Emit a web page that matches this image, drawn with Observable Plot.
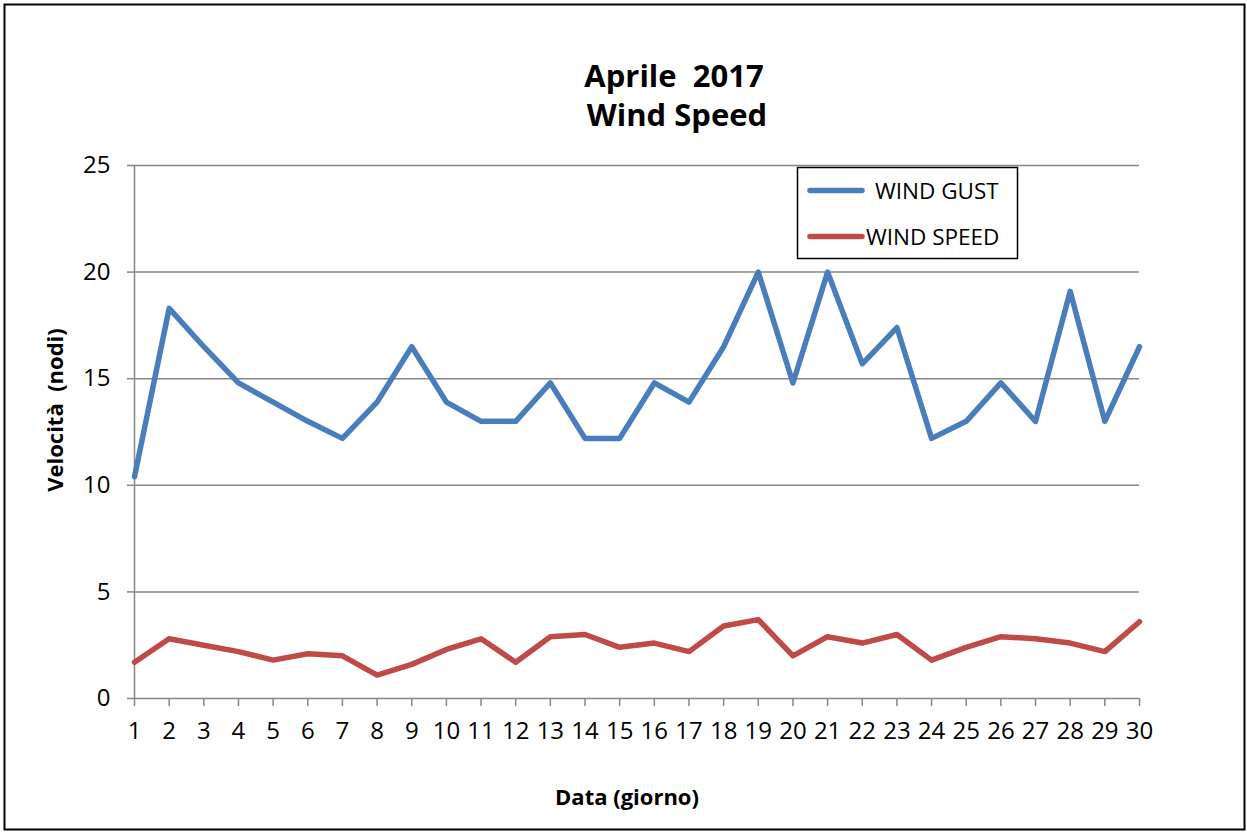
<!DOCTYPE html>
<html>
<head>
<meta charset="utf-8">
<script src="https://cdn.jsdelivr.net/npm/d3@7"></script>
<script src="https://cdn.jsdelivr.net/npm/@observablehq/plot@0.6"></script>
<style>
  html, body { margin: 0; padding: 0; background: #fff; }
  #chart { width: 1247px; height: 832px; }
</style>
</head>
<body>
<div id="chart"></div>
<script>
const days = d3.range(1, 31);
const windGust = [10.4, 18.3, 16.5, 14.8, 13.9, 13.0, 12.2, 13.9, 16.5, 13.9,
                  13.0, 13.0, 14.8, 12.2, 12.2, 14.8, 13.9, 16.5, 20.0, 14.8,
                  20.0, 15.7, 17.4, 12.2, 13.0, 14.8, 13.0, 19.1, 13.0, 16.5];
const windSpeed = [1.7, 2.8, 2.5, 2.2, 1.8, 2.1, 2.0, 1.1, 1.6, 2.3,
                   2.8, 1.7, 2.9, 3.0, 2.4, 2.6, 2.2, 3.4, 3.7, 2.0,
                   2.9, 2.6, 3.0, 1.8, 2.4, 2.9, 2.8, 2.6, 2.2, 3.6];
const yTicks = [0, 5, 10, 15, 20, 25];
const seriesNames = ["WIND GUST", "WIND SPEED"];
const seriesColors = ["#4a7ebb", "#be4b48"];
const titleLines = ["Aprile  2017", "Wind Speed"];
const xLabel = "Data (giorno)";
const yLabel = "Velocità  (nodi)";

const rows = days.flatMap((d, i) => [
  {day: d, value: windGust[i], series: seriesNames[0]},
  {day: d, value: windSpeed[i], series: seriesNames[1]}
]);

const FONT = "'Open Sans', sans-serif";
const grid = "#868686";

const chart = Plot.plot({
  width: 1247,
  height: 832,
  marginLeft: 134,
  marginRight: 108,
  marginTop: 165,
  marginBottom: 134,
  style: {fontFamily: FONT, background: "#fff", color: "#000"},
  x: {domain: [1, 30]},
  y: {domain: [0, 25]},
  color: {domain: seriesNames, range: seriesColors},
  marks: [
    Plot.ruleY(yTicks, {stroke: grid, strokeWidth: 1.5}),
    Plot.ruleX([1], {y1: 0, y2: 25, stroke: grid, strokeWidth: 1.5}),
    Plot.axisY({ticks: yTicks, tickSize: 7, tickPadding: 17, fontSize: 24, stroke: grid, strokeWidth: 1.5, fill: "#000", label: null}),
    Plot.axisX({ticks: days, tickSize: 8, tickPadding: 15, fontSize: 24, stroke: grid, strokeWidth: 1.5, fill: "#000", label: null, tickFormat: d => String(d)}),
    Plot.line(rows, {x: "day", y: "value", stroke: "series", z: "series", strokeWidth: 5.5, strokeLinejoin: "round", strokeLinecap: "round"})
  ]
});

document.getElementById("chart").appendChild(chart);

// Decorations: border, titles, axis labels, legend
const svg = d3.select(chart);
svg.insert("rect", ":first-child")
  .attr("x", 4.5).attr("y", 4.5).attr("width", 1240).attr("height", 825)
  .attr("fill", "#fff").attr("stroke", "#000").attr("stroke-width", 2);

const tg = svg.append("g").attr("font-family", FONT).attr("font-weight", "bold").attr("fill", "#000");
tg.append("text").attr("x", 674).attr("y", 87).attr("text-anchor", "middle").attr("font-size", 31).text(titleLines[0]);
tg.append("text").attr("x", 677).attr("y", 126).attr("text-anchor", "middle").attr("font-size", 31).text(titleLines[1]);
tg.append("text").attr("x", 627).attr("y", 805).attr("text-anchor", "middle").attr("font-size", 22).text(xLabel);
tg.append("text").attr("transform", "translate(63,410) rotate(-90)").attr("text-anchor", "middle").attr("font-size", 22).text(yLabel);

const lg = svg.append("g").attr("font-family", FONT);
lg.append("rect").attr("x", 797.5).attr("y", 167.5).attr("width", 220).attr("height", 91)
  .attr("fill", "#fff").attr("stroke", "#000").attr("stroke-width", 1.5);
const legendY = [190.5, 236.5];
const legendTextX = [875, 866];
seriesNames.forEach((name, i) => {
  lg.append("line").attr("x1", 810).attr("x2", 862).attr("y1", legendY[i]).attr("y2", legendY[i])
    .attr("stroke", seriesColors[i]).attr("stroke-width", 5.5).attr("stroke-linecap", "round");
  lg.append("text").attr("x", legendTextX[i]).attr("y", legendY[i] + 8).attr("text-anchor", "start")
    .attr("font-size", 22.5).attr("fill", "#000").text(name);
});
</script>
</body>
</html>
